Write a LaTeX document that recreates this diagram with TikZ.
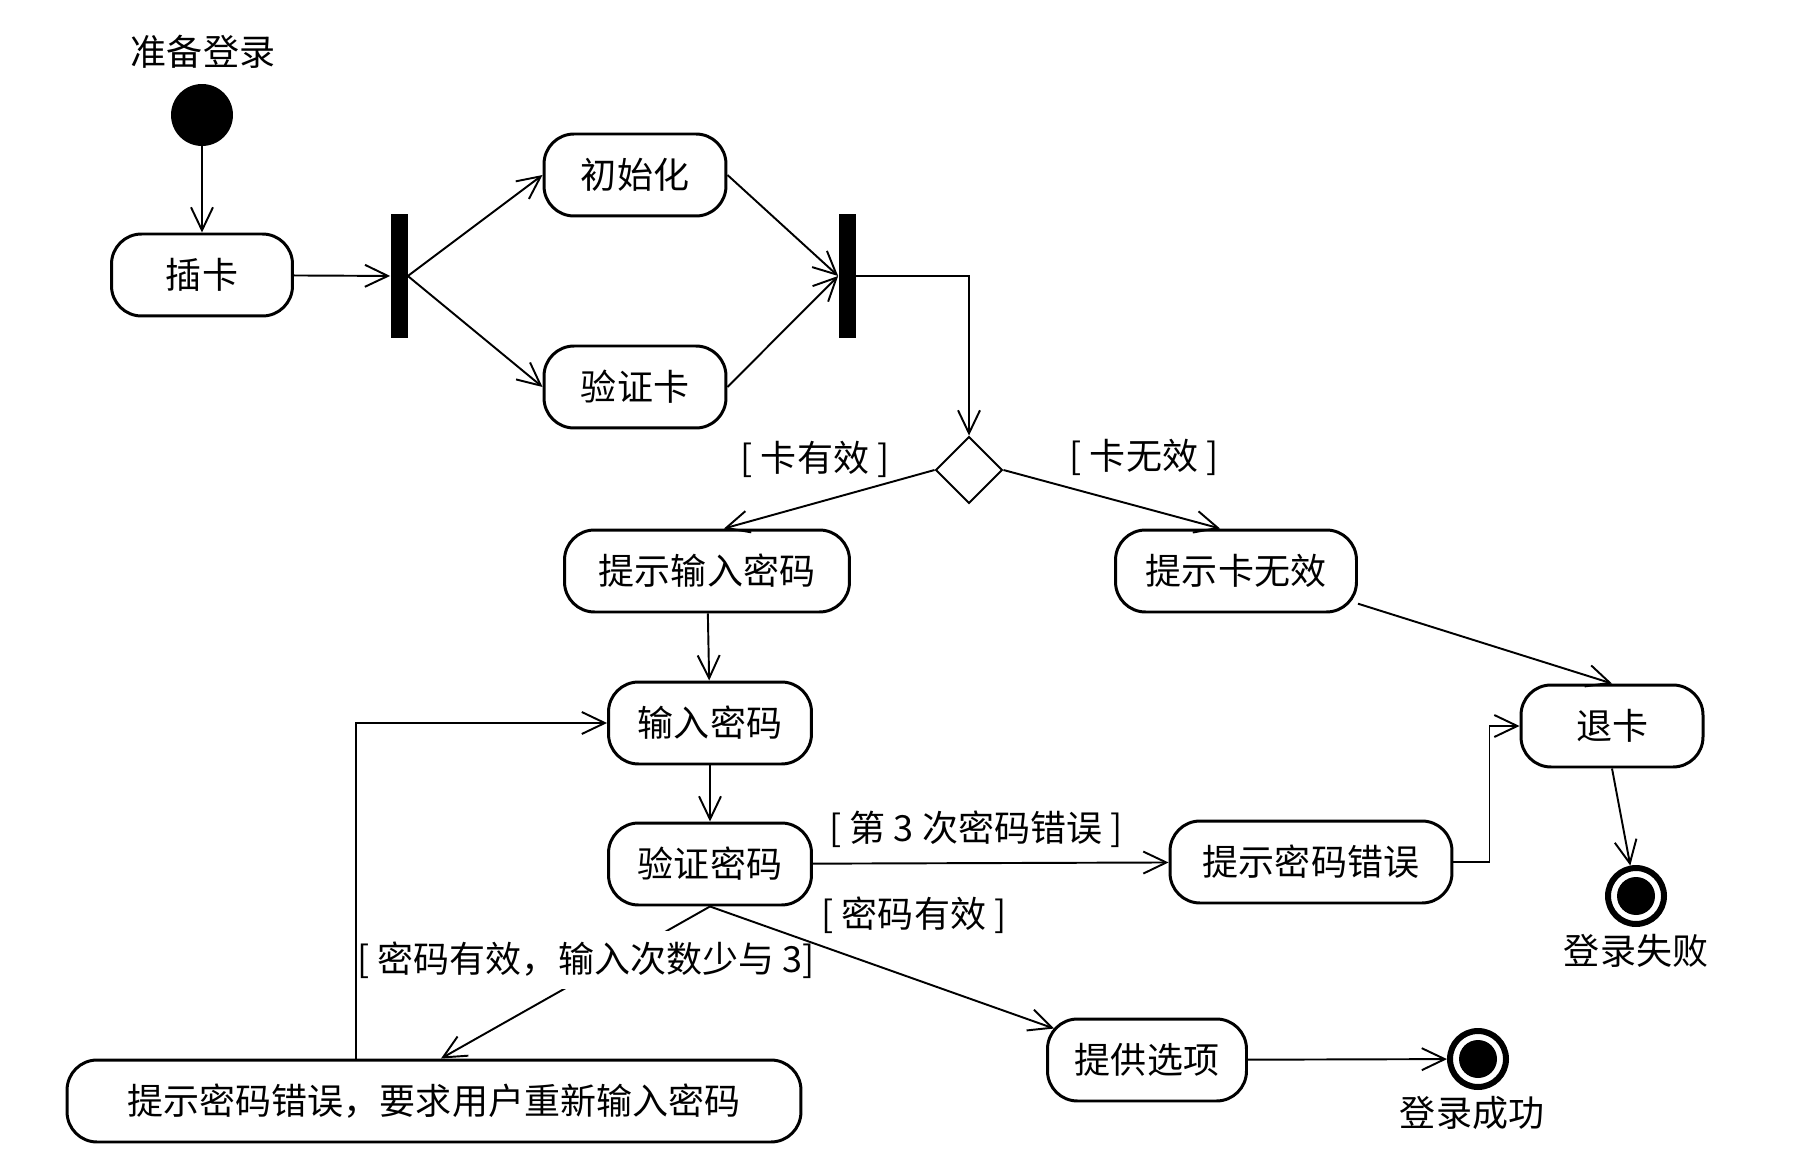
\documentclass[tikz,border=0pt]{standalone}
\usepackage{fontspec}
\setmainfont{Noto Sans CJK SC}
\usetikzlibrary{arrows.meta, shapes.geometric, calc}

\begin{document}
\begin{tikzpicture}[
        x=0.02cm, y=-0.02cm,
        font=\fontsize{20.5}{24}\selectfont,
        act/.style={draw, rectangle, rounded corners=0.6cm, line width=1.7pt, fill=white, minimum height=1.64cm, inner sep=0pt},
        bar/.style={fill=black, minimum width=0.34cm, minimum height=2.48cm, inner sep=0pt},
        choice/.style={draw, diamond, line width=1.1pt, minimum width=1.34cm, minimum height=1.34cm, inner sep=0pt},
        startdot/.style={circle, fill=black, minimum size=1.24cm, inner sep=0pt},
        enddot/.style={circle, draw, line width=0.12cm, minimum size=1.12cm, inner sep=0pt,
            path picture={\fill (path picture bounding box.center) circle (0.38cm);}},
        flow/.style={-{Straight Barb[length=0.46cm, width=0.44cm]}, line width=1.1pt},
        lbl/.style={inner sep=2pt}
    ]
    \useasboundingbox (0,0) rectangle (1818,1175);

    % Start and card
    \node[lbl] (tstart) at (203,52) {准备登录};
    \node[startdot] (start) at (202,115) {};
    \node[act, minimum width=3.62cm] (chaka) at (202,275) {插卡};

    % Fork / join
    \node[bar] (fork) at (399,276) {};
    \node[act, minimum width=3.64cm] (init) at (635,175) {初始化};
    \node[act, minimum width=3.64cm] (yzk) at (635,387) {验证卡};
    \node[bar] (join) at (847,276) {};

    % Decision on card
    \node[choice] (dec) at (969,470) {};
    \node[lbl] (tvalid) at (815,459) {[ 卡有效 ]};
    \node[lbl] (tinvalid) at (1144,457) {[ 卡无效 ]};
    \node[act, minimum width=5.7cm] (tsin) at (707,571) {提示输入密码};
    \node[act, minimum width=4.82cm] (tskwx) at (1236,571) {提示卡无效};

    % Password
    \node[act, minimum width=4.06cm] (srmm) at (710,723) {输入密码};
    \node[act, minimum width=4.06cm] (yzmm) at (710,864) {验证密码};
    \node[act, minimum width=5.64cm] (tsmmcw) at (1311,862) {提示密码错误};
    \node[act, minimum width=3.64cm] (tk) at (1612,726) {退卡};
    \node[act, minimum width=14.68cm] (retry) at (434,1101) {提示密码错误，要求用户重新输入密码};
    \node[act, minimum width=3.98cm] (tgxx) at (1147,1060) {提供选项};

    % End states
    \node[enddot] (endfail) at (1636,896) {};
    \node[lbl] (tfail) at (1636,951) {登录失败};
    \node[enddot] (endok) at (1478,1059) {};
    \node[lbl] (tok) at (1472,1113) {登录成功};

    % Flows
    \draw[flow] (start) -- (chaka);
    \draw[flow] (chaka) -- (fork);
    \draw[flow] (fork.east) -- (init.west);
    \draw[flow] (fork.east) -- (yzk.west);
    \draw[flow] (init.east) -- (join.west);
    \draw[flow] (yzk.east) -- (join.west);
    \draw[flow] (join.east) -| (dec.north);
    \draw[flow] (dec.west) -- ($(tsin.north)+(17,0)$);
    \draw[flow] (dec.east) -- ($(tskwx.north)+(-16,0)$);
    \draw[flow] (tsin) -- (srmm);
    \draw[flow] (tskwx.-15) -- (tk.north);
    \draw[flow] (srmm) -- (yzmm);
    \draw[flow] (yzmm) -- (tsmmcw);
    \draw[flow] (tsmmcw.east) -- ++(36,0) |- (tk.west);
    \draw[flow] (tk.south) -- (endfail);
    \draw[flow] (yzmm.south) -- ($(retry.north)+(7,0)$);
    \draw[flow] ($(retry.north)+(-78,0)$) |- (srmm.west);
    \draw[flow] (tgxx) -- (endok);

    % Guards
    \node[lbl] (t3rd) at (976,829) {[ 第 3 次密码错误 ]};
    \node[lbl] (tok2) at (914,915) {[ 密码有效 ]};
    \node[lbl, fill=white, inner xsep=0pt, inner ysep=6pt] (tretry) at (586,960) {[ 密码有效，输入次数少与 3]};
    \draw[flow] (yzmm.south) -- ($(tgxx.north west)+(8,11)$);

\end{tikzpicture}
\end{document}
